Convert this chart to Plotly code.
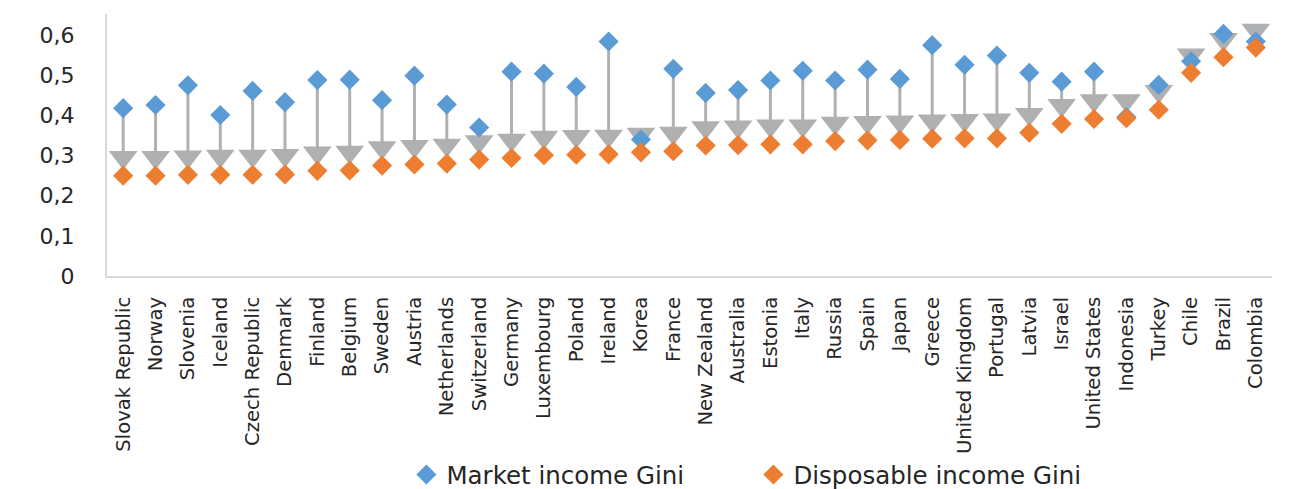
import plotly.graph_objects as go

countries = ["Slovak Republic", "Norway", "Slovenia", "Iceland", "Czech Republic", "Denmark",
             "Finland", "Belgium", "Sweden", "Austria", "Netherlands", "Switzerland", "Germany",
             "Luxembourg", "Poland", "Ireland", "Korea", "France", "New Zealand", "Australia",
             "Estonia", "Italy", "Russia", "Spain", "Japan", "Greece", "United Kingdom",
             "Portugal", "Latvia", "Israel", "United States", "Indonesia", "Turkey", "Chile",
             "Brazil", "Colombia"]

market_gini = [0.418, 0.426, 0.475, 0.401, 0.461, 0.433, 0.488, 0.489, 0.438, 0.499, 0.427, 0.370,
               0.509, 0.504, 0.471, 0.584, 0.340, 0.516, 0.456, 0.463, 0.487, 0.511, 0.487, 0.514,
               0.491, 0.575, 0.526, 0.549, 0.506, 0.484, 0.509, 0.396, 0.476, 0.535, 0.603, 0.584]

disposable_gini = [0.250, 0.250, 0.252, 0.252, 0.252, 0.253, 0.262, 0.263, 0.275, 0.278, 0.280, 0.290,
                   0.294, 0.301, 0.302, 0.303, 0.308, 0.311, 0.325, 0.326, 0.328, 0.328, 0.336, 0.338,
                   0.339, 0.342, 0.343, 0.343, 0.357, 0.379, 0.391, 0.393, 0.414, 0.506, 0.545, 0.569]

after_transfers_gini = [0.296, 0.296, 0.297, 0.299, 0.299, 0.301, 0.307, 0.309, 0.320, 0.323, 0.326, 0.335,
                        0.339, 0.346, 0.348, 0.349, 0.354, 0.356, 0.370, 0.372, 0.374, 0.374, 0.381, 0.383,
                        0.384, 0.387, 0.388, 0.389, 0.403, 0.425, 0.437, 0.437, 0.460, 0.551, 0.590, 0.613]

y_ticks = [0, 0.1, 0.2, 0.3, 0.4, 0.5, 0.6]
y_ticktext = ["0", "0,1", "0,2", "0,3", "0,4", "0,5", "0,6"]

BLUE = "#5B9BD5"
ORANGE = "#ED7D31"
GREY = "#AFB0B2"
FONT = "DejaVu Sans"

# connector lines from market Gini to the arrow marker
lx, ly = [], []
for c, m, a in zip(countries, market_gini, after_transfers_gini):
    lx += [c, c, None]
    ly += [m, a, None]

fig = go.Figure()
fig.add_trace(go.Scatter(x=lx, y=ly, mode="lines", line=dict(color=GREY, width=3),
                         showlegend=False, hoverinfo="skip"))
fig.add_trace(go.Scatter(x=countries, y=after_transfers_gini, mode="markers",
                         marker=dict(symbol="triangle-down", size=25, color=GREY),
                         showlegend=False, name="Gini after transfers"))
fig.add_trace(go.Scatter(x=countries, y=market_gini, mode="markers", name="Market income Gini",
                         marker=dict(symbol="diamond", size=15.5, color=BLUE)))
fig.add_trace(go.Scatter(x=countries, y=disposable_gini, mode="markers", name="Disposable income Gini",
                         marker=dict(symbol="diamond", size=15.5, color=ORANGE)))

fig.update_layout(
    width=1300, height=489,
    margin=dict(l=99, r=36, t=6, b=221, autoexpand=False),
    paper_bgcolor="white", plot_bgcolor="white",
    font=dict(family=FONT, color="#262626"),
    legend=dict(orientation="h", x=0.257, xanchor="left", y=-0.672, yanchor="top",
                font=dict(size=24.5, family=FONT, color="#262626"),
                entrywidth=302, entrywidthmode="pixels", itemsizing="trace",
                bgcolor="rgba(0,0,0,0)"),
)
fig.update_xaxes(type="category", categoryorder="array", categoryarray=countries,
                 range=[-0.5, len(countries) - 0.5], tickangle=-90,
                 tickfont=dict(size=19.6, family=FONT, color="#262626"),
                 showline=True, linecolor="#D9D9D9", linewidth=2, showgrid=False,
                 ticks="", ticklabelstandoff=11)
fig.update_yaxes(range=[0, 0.6526], tickvals=y_ticks, ticktext=y_ticktext,
                 tickfont=dict(size=22, family=FONT, color="#262626"),
                 showline=True, linecolor="#D9D9D9", linewidth=2, showgrid=False,
                 zeroline=False, ticks="", ticklabelstandoff=26)

fig.write_html("out.html")
